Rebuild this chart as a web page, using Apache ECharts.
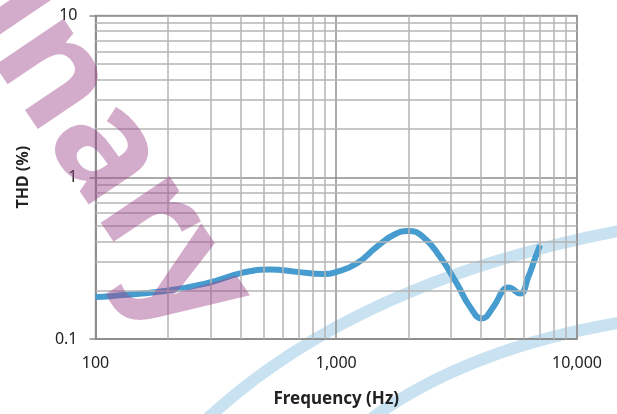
<!DOCTYPE html>
<html>
<head>
<meta charset="utf-8">
<script src="https://cdn.jsdelivr.net/npm/echarts@6/dist/echarts.min.js"></script>
<style>
html,body{margin:0;padding:0;background:#fff;}
#chart{width:617px;height:414px;}
</style>
</head>
<body>
<div id="chart"></div>
<script>
// ---- data ----
var freqHz = [100, 115, 198, 290, 410, 531, 685, 881, 1004, 1216, 1472, 1721, 1986, 2293, 2697, 3164, 3594, 4020, 4493, 4942, 5184, 5799, 6277, 6693, 7021];
var thdPct = [0.182, 0.184, 0.199, 0.221, 0.257, 0.269, 0.260, 0.252, 0.260, 0.293, 0.371, 0.438, 0.466, 0.428, 0.322, 0.221, 0.158, 0.134, 0.158, 0.201, 0.208, 0.191, 0.242, 0.315, 0.380];
var xTickValues = [100, 1000, 10000];
var xTickLabels = ['100', '1,000', '10,000'];
var yTickValues = [0.1, 1, 10];
var yTickLabels = ['0.1', '1', '10'];
var xMinorGrid = [200, 300, 400, 500, 600, 700, 800, 900, 2000, 3000, 4000, 5000, 6000, 7000, 8000, 9000];
var yMinorGrid = [0.2, 0.3, 0.4, 0.5, 0.6, 0.7, 0.8, 0.9, 2, 3, 4, 5, 6, 7, 8, 9];
var xTitle = 'Frequency (Hz)';
var yTitle = 'THD (%)';
var watermarkText = 'Preliminary';

function findLabel(v, vals, labels) {
  for (var i = 0; i < vals.length; i++) {
    if (Math.abs(Math.log10(v) - Math.log10(vals[i])) < 1e-6) return labels[i];
  }
  return '';
}

var gridMarks = [];
xMinorGrid.forEach(function (v) { gridMarks.push({ xAxis: v }); });
yMinorGrid.forEach(function (v) { gridMarks.push({ yAxis: v }); });

var chart = echarts.init(document.getElementById('chart'), null, { renderer: 'canvas' });
var FONT = 'Noto Sans';
chart.setOption({
  animation: false,
  backgroundColor: '#ffffff',
  grid: { left: 95.5, right: 40, top: 15.5, bottom: 75, containLabel: false,
          show: true, borderColor: '#a9a9a9', borderWidth: 1.5 },
  xAxis: {
    type: 'log', logBase: 10, min: 100, max: 10000,
    name: xTitle, nameLocation: 'middle', nameGap: 52,
    nameTextStyle: { fontFamily: FONT, fontSize: 17, fontWeight: 'bold', color: '#222' },
    axisLine: { show: true, lineStyle: { color: '#8a8a8a', width: 1.5 } },
    axisTick: { show: false },
    axisLabel: { margin: 16, fontFamily: FONT, fontSize: 16, color: '#222',
      formatter: function (v) { return findLabel(v, xTickValues, xTickLabels); } },
    splitLine: { show: true, lineStyle: { color: '#8e8e8e', width: 1.5 } },
    minorTick: { show: false }, minorSplitLine: { show: false }
  },
  yAxis: {
    type: 'log', logBase: 10, min: 0.1, max: 10,
    name: yTitle, nameLocation: 'middle', nameGap: 64, nameRotate: 90,
    nameTextStyle: { fontFamily: FONT, fontSize: 16, fontWeight: 'bold', color: '#222' },
    axisLine: { show: true, lineStyle: { color: '#8a8a8a', width: 1.5 } },
    axisTick: { show: true, length: 6, lineStyle: { color: '#8a8a8a', width: 1.5 } },
    axisLabel: { margin: 18, fontFamily: FONT, fontSize: 16, color: '#222',
      formatter: function (v) { return findLabel(v, yTickValues, yTickLabels); } },
    splitLine: { show: true, lineStyle: { color: '#8e8e8e', width: 1.5 } },
    minorTick: { show: false }, minorSplitLine: { show: false }
  },
  graphic: [
    { type: 'bezierCurve', z: -5, silent: true,
      shape: { x1: 208, y1: 418, cpx1: 362, cpy1: 276, x2: 640, y2: 227 },
      style: { stroke: 'rgba(200,226,241,1)', lineWidth: 12, fill: null } },
    { type: 'bezierCurve', z: -5, silent: true,
      shape: { x1: 372, y1: 418, cpx1: 472, cpy1: 346, x2: 630, y2: 321 },
      style: { stroke: 'rgba(200,226,241,1)', lineWidth: 12, fill: null } },
    { type: 'text', z: 100, silent: true, x: 154, y: 360, rotation: -56 * Math.PI / 180,
      style: { text: watermarkText, fontSize: 152, fontWeight: 'bold', fontFamily: FONT,
               fill: 'rgba(160,70,140,0.45)', align: 'right', verticalAlign: 'bottom' } }
  ],
  series: [
    { type: 'line', data: [], z: 1, silent: true,
      markLine: { silent: true, symbol: ['none', 'none'], label: { show: false },
        lineStyle: { color: '#b4b4b4', width: 1.5, type: 'solid' },
        emphasis: { disabled: true }, data: gridMarks } },
    { type: 'line', z: 3, smooth: 0.5, showSymbol: false, symbol: 'none',
      lineStyle: { color: '#469bcf', width: 6 },
      data: freqHz.map(function (f, i) { return [f, thdPct[i]]; }) }
  ]
});
</script>
</body>
</html>
